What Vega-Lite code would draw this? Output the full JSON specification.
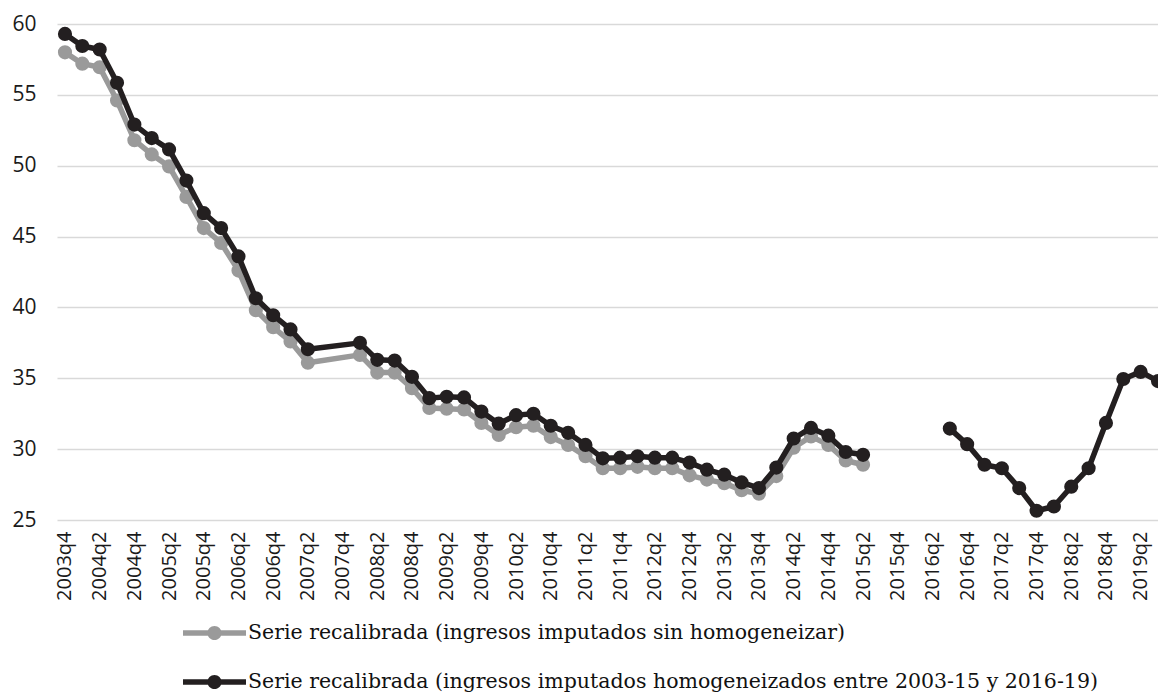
{
  "$schema": "https://vega.github.io/schema/vega-lite/v6.json",
  "autosize": {"type": "none"},
  "width": 1101,
  "height": 496,
  "padding": {"left": 57, "top": 24, "right": 0, "bottom": 176},
  "background": "white",
  "config": {
    "view": {"stroke": null},
    "font": "Open Sans"
  },
  "data": {
    "values": [
      {"t": "2003q4", "s": "A", "tr": "1", "v": 58.0},
      {"t": "2004q1", "s": "A", "tr": "1", "v": 57.2},
      {"t": "2004q2", "s": "A", "tr": "1", "v": 56.95},
      {"t": "2004q3", "s": "A", "tr": "1", "v": 54.6},
      {"t": "2004q4", "s": "A", "tr": "1", "v": 51.8},
      {"t": "2005q1", "s": "A", "tr": "1", "v": 50.8},
      {"t": "2005q2", "s": "A", "tr": "1", "v": 49.95},
      {"t": "2005q3", "s": "A", "tr": "1", "v": 47.8},
      {"t": "2005q4", "s": "A", "tr": "1", "v": 45.6},
      {"t": "2006q1", "s": "A", "tr": "1", "v": 44.55},
      {"t": "2006q2", "s": "A", "tr": "1", "v": 42.6},
      {"t": "2006q3", "s": "A", "tr": "1", "v": 39.8},
      {"t": "2006q4", "s": "A", "tr": "1", "v": 38.6},
      {"t": "2007q1", "s": "A", "tr": "1", "v": 37.6},
      {"t": "2007q2", "s": "A", "tr": "1", "v": 36.1},
      {"t": "2008q1", "s": "A", "tr": "1", "v": 36.65},
      {"t": "2008q2", "s": "A", "tr": "1", "v": 35.4},
      {"t": "2008q3", "s": "A", "tr": "1", "v": 35.4},
      {"t": "2008q4", "s": "A", "tr": "1", "v": 34.3},
      {"t": "2009q1", "s": "A", "tr": "1", "v": 32.9},
      {"t": "2009q2", "s": "A", "tr": "1", "v": 32.85},
      {"t": "2009q3", "s": "A", "tr": "1", "v": 32.8},
      {"t": "2009q4", "s": "A", "tr": "1", "v": 31.85},
      {"t": "2010q1", "s": "A", "tr": "1", "v": 31.0},
      {"t": "2010q2", "s": "A", "tr": "1", "v": 31.55},
      {"t": "2010q3", "s": "A", "tr": "1", "v": 31.65},
      {"t": "2010q4", "s": "A", "tr": "1", "v": 30.85},
      {"t": "2011q1", "s": "A", "tr": "1", "v": 30.3},
      {"t": "2011q2", "s": "A", "tr": "1", "v": 29.5},
      {"t": "2011q3", "s": "A", "tr": "1", "v": 28.65},
      {"t": "2011q4", "s": "A", "tr": "1", "v": 28.65},
      {"t": "2012q1", "s": "A", "tr": "1", "v": 28.75},
      {"t": "2012q2", "s": "A", "tr": "1", "v": 28.65},
      {"t": "2012q3", "s": "A", "tr": "1", "v": 28.65},
      {"t": "2012q4", "s": "A", "tr": "1", "v": 28.15},
      {"t": "2013q1", "s": "A", "tr": "1", "v": 27.85},
      {"t": "2013q2", "s": "A", "tr": "1", "v": 27.6},
      {"t": "2013q3", "s": "A", "tr": "1", "v": 27.1},
      {"t": "2013q4", "s": "A", "tr": "1", "v": 26.85},
      {"t": "2014q1", "s": "A", "tr": "1", "v": 28.1},
      {"t": "2014q2", "s": "A", "tr": "1", "v": 30.1},
      {"t": "2014q3", "s": "A", "tr": "1", "v": 30.9},
      {"t": "2014q4", "s": "A", "tr": "1", "v": 30.3},
      {"t": "2015q1", "s": "A", "tr": "1", "v": 29.2},
      {"t": "2015q2", "s": "A", "tr": "1", "v": 28.9},
      {"t": "2003q4", "s": "B", "tr": "1", "v": 59.3},
      {"t": "2004q1", "s": "B", "tr": "1", "v": 58.45},
      {"t": "2004q2", "s": "B", "tr": "1", "v": 58.2},
      {"t": "2004q3", "s": "B", "tr": "1", "v": 55.85},
      {"t": "2004q4", "s": "B", "tr": "1", "v": 52.9},
      {"t": "2005q1", "s": "B", "tr": "1", "v": 51.95},
      {"t": "2005q2", "s": "B", "tr": "1", "v": 51.15},
      {"t": "2005q3", "s": "B", "tr": "1", "v": 48.95},
      {"t": "2005q4", "s": "B", "tr": "1", "v": 46.65},
      {"t": "2006q1", "s": "B", "tr": "1", "v": 45.6},
      {"t": "2006q2", "s": "B", "tr": "1", "v": 43.6},
      {"t": "2006q3", "s": "B", "tr": "1", "v": 40.65},
      {"t": "2006q4", "s": "B", "tr": "1", "v": 39.45},
      {"t": "2007q1", "s": "B", "tr": "1", "v": 38.45},
      {"t": "2007q2", "s": "B", "tr": "1", "v": 37.05},
      {"t": "2008q1", "s": "B", "tr": "1", "v": 37.5},
      {"t": "2008q2", "s": "B", "tr": "1", "v": 36.3},
      {"t": "2008q3", "s": "B", "tr": "1", "v": 36.25},
      {"t": "2008q4", "s": "B", "tr": "1", "v": 35.1},
      {"t": "2009q1", "s": "B", "tr": "1", "v": 33.6},
      {"t": "2009q2", "s": "B", "tr": "1", "v": 33.7},
      {"t": "2009q3", "s": "B", "tr": "1", "v": 33.65},
      {"t": "2009q4", "s": "B", "tr": "1", "v": 32.65},
      {"t": "2010q1", "s": "B", "tr": "1", "v": 31.8},
      {"t": "2010q2", "s": "B", "tr": "1", "v": 32.4},
      {"t": "2010q3", "s": "B", "tr": "1", "v": 32.5},
      {"t": "2010q4", "s": "B", "tr": "1", "v": 31.65},
      {"t": "2011q1", "s": "B", "tr": "1", "v": 31.15},
      {"t": "2011q2", "s": "B", "tr": "1", "v": 30.3},
      {"t": "2011q3", "s": "B", "tr": "1", "v": 29.35},
      {"t": "2011q4", "s": "B", "tr": "1", "v": 29.4},
      {"t": "2012q1", "s": "B", "tr": "1", "v": 29.5},
      {"t": "2012q2", "s": "B", "tr": "1", "v": 29.4},
      {"t": "2012q3", "s": "B", "tr": "1", "v": 29.4},
      {"t": "2012q4", "s": "B", "tr": "1", "v": 29.05},
      {"t": "2013q1", "s": "B", "tr": "1", "v": 28.55},
      {"t": "2013q2", "s": "B", "tr": "1", "v": 28.2},
      {"t": "2013q3", "s": "B", "tr": "1", "v": 27.65},
      {"t": "2013q4", "s": "B", "tr": "1", "v": 27.25},
      {"t": "2014q1", "s": "B", "tr": "1", "v": 28.7},
      {"t": "2014q2", "s": "B", "tr": "1", "v": 30.75},
      {"t": "2014q3", "s": "B", "tr": "1", "v": 31.5},
      {"t": "2014q4", "s": "B", "tr": "1", "v": 30.95},
      {"t": "2015q1", "s": "B", "tr": "1", "v": 29.8},
      {"t": "2015q2", "s": "B", "tr": "1", "v": 29.6},
      {"t": "2016q3", "s": "B", "tr": "2", "v": 31.45},
      {"t": "2016q4", "s": "B", "tr": "2", "v": 30.35},
      {"t": "2017q1", "s": "B", "tr": "2", "v": 28.9},
      {"t": "2017q2", "s": "B", "tr": "2", "v": 28.65},
      {"t": "2017q3", "s": "B", "tr": "2", "v": 27.25},
      {"t": "2017q4", "s": "B", "tr": "2", "v": 25.65},
      {"t": "2018q1", "s": "B", "tr": "2", "v": 25.95},
      {"t": "2018q2", "s": "B", "tr": "2", "v": 27.35},
      {"t": "2018q3", "s": "B", "tr": "2", "v": 28.65},
      {"t": "2018q4", "s": "B", "tr": "2", "v": 31.85},
      {"t": "2019q1", "s": "B", "tr": "2", "v": 34.95},
      {"t": "2019q2", "s": "B", "tr": "2", "v": 35.45},
      {"t": "2019q3", "s": "B", "tr": "2", "v": 34.8}
    ]
  },
  "encoding": {
    "x": {
      "field": "t",
      "type": "ordinal",
      "scale": {
        "type": "point",
        "padding": 0.23,
        "align": 1,
        "domain": ["2003q4","2004q1","2004q2","2004q3","2004q4","2005q1","2005q2","2005q3","2005q4","2006q1","2006q2","2006q3","2006q4","2007q1","2007q2","2007q3","2007q4","2008q1","2008q2","2008q3","2008q4","2009q1","2009q2","2009q3","2009q4","2010q1","2010q2","2010q3","2010q4","2011q1","2011q2","2011q3","2011q4","2012q1","2012q2","2012q3","2012q4","2013q1","2013q2","2013q3","2013q4","2014q1","2014q2","2014q3","2014q4","2015q1","2015q2","2015q3","2015q4","2016q1","2016q2","2016q3","2016q4","2017q1","2017q2","2017q3","2017q4","2018q1","2018q2","2018q3","2018q4","2019q1","2019q2","2019q3"]
      },
      "axis": {
        "title": null,
        "values": ["2003q4","2004q2","2004q4","2005q2","2005q4","2006q2","2006q4","2007q2","2007q4","2008q2","2008q4","2009q2","2009q4","2010q2","2010q4","2011q2","2011q4","2012q2","2012q4","2013q2","2013q4","2014q2","2014q4","2015q2","2015q4","2016q2","2016q4","2017q2","2017q4","2018q2","2018q4","2019q2"],
        "labelAngle": -90,
        "labelFontSize": 20,
        "labelColor": "#1a1a1a",
        "labelFont": "Open Sans",
        "labelPadding": 11,
        "ticks": false,
        "domain": false,
        "grid": false,
        "labelOverlap": false
      }
    },
    "y": {
      "field": "v",
      "type": "quantitative",
      "scale": {"domain": [25, 60], "nice": false, "zero": false},
      "axis": {
        "title": null,
        "values": [25, 30, 35, 40, 45, 50, 55, 60],
        "labelFontSize": 21,
        "labelColor": "#1a1a1a",
        "labelFont": "Open Sans",
        "labelPadding": 21,
        "ticks": false,
        "domain": false,
        "grid": true,
        "gridColor": "#d9d9d9",
        "gridWidth": 1.5
      }
    }
  },
  "layer": [
    {
      "transform": [{"filter": "datum.s === 'A'"}],
      "mark": {"type": "line", "strokeWidth": 5.5, "color": "#9a9a9a", "strokeJoin": "round"},
      "encoding": {}
    },
    {
      "transform": [{"filter": "datum.s === 'A'"}],
      "mark": {"type": "point", "filled": true, "size": 200, "opacity": 1, "color": "#9a9a9a"},
      "encoding": {}
    },
    {
      "transform": [{"filter": "datum.s === 'B'"}],
      "mark": {"type": "line", "strokeWidth": 5.5, "color": "#231f20", "strokeJoin": "round"},
      "encoding": {"detail": {"field": "tr"}}
    },
    {
      "transform": [{"filter": "datum.s === 'B'"}],
      "mark": {"type": "point", "filled": true, "size": 200, "opacity": 1},
      "encoding": {
        "color": {
          "field": "s",
          "type": "nominal",
          "scale": {"domain": ["A", "B"], "range": ["#9a9a9a", "#231f20"]},
          "legend": {
            "title": null,
            "orient": "none",
            "legendX": 126,
            "legendY": 599,
            "direction": "vertical",
            "padding": 0,
            "rowPadding": 28,
            "clipHeight": 20,
            "labelExpr": "datum.value === 'A' ? 'Serie recalibrada (ingresos imputados sin homogeneizar)' : 'Serie recalibrada (ingresos imputados homogeneizados entre 2003-15 y 2016-19)'",
            "labelFont": "DejaVu Serif",
            "labelFontSize": 20.5,
            "labelColor": "#111111",
            "labelLimit": 2000,
            "labelOffset": 2,
            "symbolType": "M-1,-0.085L1,-0.085L1,0.085L-1,0.085Z M-0.225,0 A0.225,0.225 0 1,1 0.225,0 A0.225,0.225 0 1,1 -0.225,0 Z",
            "symbolSize": 3969,
            "symbolStrokeWidth": 0,
            "symbolOpacity": 1
          }
        }
      }
    }
  ]
}
